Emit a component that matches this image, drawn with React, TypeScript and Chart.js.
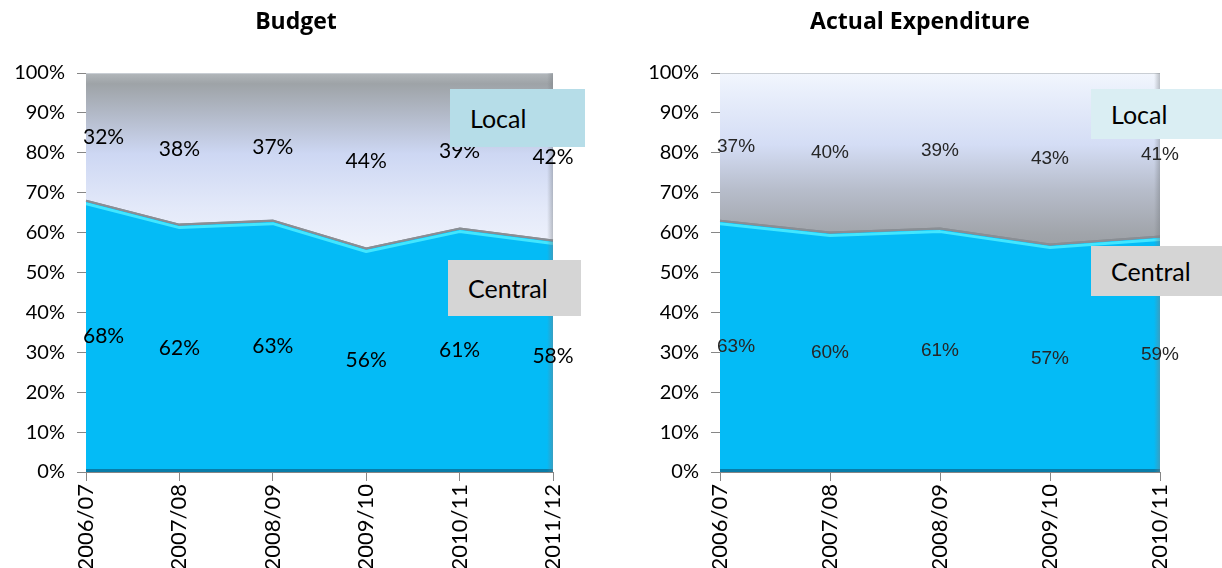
import React, { useEffect, useRef } from "react";
import { Chart, registerables } from "chart.js";

Chart.register(...registerables);

const budgetYears = ["2006/07", "2007/08", "2008/09", "2009/10", "2010/11", "2011/12"];
const budgetCentral = [68, 62, 63, 56, 61, 58];
const budgetLocal = [32, 38, 37, 44, 39, 42];

const actualYears = ["2006/07", "2007/08", "2008/09", "2009/10", "2010/11"];
const actualCentral = [63, 60, 61, 57, 59];
const actualLocal = [37, 40, 39, 43, 41];

const yMin = 0;
const yMax = 100;
const yStep = 10;

type Spec = {
  title: string;
  titleX: number;
  years: string[];
  central: number[];
  local: number[];
  plotLeft: number;
  plotRight: number;
  width: number;
  localStops: [number, string][];
  labelFont: string;
  labelColor: string;
};

const PLOT_TOP = 73;
const PLOT_BOTTOM = 472;
const HEIGHT = 568;

function buildChart(canvas: HTMLCanvasElement, s: Spec) {
  const overlay = {
    id: "overlay",
    afterDatasetsDraw(chart: any) {
      const ctx = chart.ctx as CanvasRenderingContext2D;
      const xs = chart.scales.x;
      const ys = chart.scales.y;
      const area = chart.chartArea;
      ctx.save();
      ctx.beginPath();
      ctx.rect(area.left, area.top, area.right - area.left, area.bottom - area.top);
      ctx.clip();
      ctx.lineJoin = "round";
      ctx.beginPath();
      s.central.forEach((v, i) => {
        const x = xs.getPixelForValue(i);
        const y = ys.getPixelForValue(v) + 3;
        if (i === 0) ctx.moveTo(x, y);
        else ctx.lineTo(x, y);
      });
      ctx.strokeStyle = "rgba(70,232,255,0.95)";
      ctx.lineWidth = 3;
      ctx.stroke();
      ctx.beginPath();
      s.central.forEach((v, i) => {
        const x = xs.getPixelForValue(i);
        const y = ys.getPixelForValue(v);
        if (i === 0) ctx.moveTo(x, y);
        else ctx.lineTo(x, y);
      });
      ctx.strokeStyle = "#8a8e94";
      ctx.lineWidth = 2;
      ctx.stroke();
      ctx.fillStyle = "rgba(10,110,150,0.8)";
      ctx.fillRect(area.left, area.bottom - 3, area.right - area.left, 3);
      // right-edge bevel
      const edge = ctx.createLinearGradient(area.right - 6, 0, area.right, 0);
      edge.addColorStop(0, "rgba(120,125,130,0)");
      edge.addColorStop(1, "rgba(120,125,130,0.45)");
      ctx.fillStyle = edge;
      ctx.fillRect(area.right - 6, area.top, 6, area.bottom - area.top);
      ctx.restore();

      ctx.save();
      ctx.font = s.labelFont;
      ctx.fillStyle = s.labelColor;
      ctx.textBaseline = "middle";
      s.central.forEach((c, i) => {
        const l = s.local[i];
        const x = xs.getPixelForValue(i);
        ctx.textAlign = i === 0 ? "left" : "center";
        const lx = i === 0 ? x - 3 : x;
        ctx.fillText(c + "%", lx, ys.getPixelForValue(c / 2));
        ctx.fillText(l + "%", lx, ys.getPixelForValue(c + l / 2));
      });
      ctx.restore();

      ctx.save();
      ctx.font = "bold 23px 'Open Sans', sans-serif";
      ctx.fillStyle = "#000";
      ctx.textAlign = "center";
      ctx.textBaseline = "middle";
      ctx.fillText(s.title, s.titleX, 22);
      ctx.restore();
    },
  };

  const tickFont = { family: "Lato, 'DejaVu Sans', sans-serif", size: 20 };

  return new Chart(canvas, {
    type: "line",
    data: {
      labels: s.years,
      datasets: [
        {
          label: "Central",
          data: s.central,
          fill: "origin",
          backgroundColor: "#04bbf6",
          borderColor: "#8a8e94",
          borderWidth: 2,
          pointRadius: 0,
          tension: 0,
        },
        {
          label: "Local",
          data: s.local,
          fill: "-1",
          backgroundColor: (ctx: any) => {
            const chart = ctx.chart;
            if (!chart.chartArea) return "#d0d8f0";
            const y = chart.scales.y;
            const g = chart.ctx.createLinearGradient(0, y.getPixelForValue(100), 0, y.getPixelForValue(55));
            s.localStops.forEach(([o, c]) => g.addColorStop(o, c));
            return g;
          },
          borderColor: "#c9ced4",
          borderWidth: 2,
          pointRadius: 0,
          tension: 0,
        },
      ],
    },
    options: {
      animation: false,
      responsive: false,
      maintainAspectRatio: false,
      layout: {
        padding: { top: PLOT_TOP, right: s.width - s.plotRight, bottom: 0, left: 0 },
      },
      plugins: {
        legend: { display: false },
        title: { display: false },
        tooltip: { enabled: false },
      },
      scales: {
        x: {
          offset: false,
          grid: { drawOnChartArea: false, tickLength: 9, color: "#868686" },
          border: { color: "#868686" },
          ticks: {
            autoSkip: false,
            maxRotation: 90,
            minRotation: 90,
            padding: 3,
            color: "#000",
            font: { family: "Lato, 'DejaVu Sans', sans-serif", size: 22 },
          },
          afterFit: (scale: any) => {
            scale.height = HEIGHT - PLOT_BOTTOM;
          },
        },
        y: {
          stacked: true,
          min: yMin,
          max: yMax,
          grid: { drawOnChartArea: false, tickLength: 9, color: "#868686" },
          border: { color: "#868686" },
          ticks: {
            stepSize: yStep,
            padding: 12,
            color: "#000",
            font: tickFont,
            callback: (v: any) => v + "%",
          },
          afterFit: (scale: any) => {
            scale.width = s.plotLeft;
          },
        },
      },
    },
    plugins: [overlay],
  } as any);
}

const leftSpec: Spec = {
  title: "Budget",
  titleX: 296,
  years: budgetYears,
  central: budgetCentral,
  local: budgetLocal,
  plotLeft: 86,
  plotRight: 553,
  width: 610,
  localStops: [
    [0, "#b2b7bb"],
    [0.06, "#9ea3a7"],
    [0.45, "#cdd7f3"],
    [0.75, "#e3e9f9"],
    [1, "#f0f3fc"],
  ],
  labelFont: "21px Lato, sans-serif",
  labelColor: "#000",
};

const rightSpec: Spec = {
  title: "Actual Expenditure",
  titleX: 308,
  years: actualYears,
  central: actualCentral,
  local: actualLocal,
  plotLeft: 108,
  plotRight: 548,
  width: 610,
  localStops: [
    [0, "#f2f6fd"],
    [0.12, "#e8eefb"],
    [0.4, "#d4ddf5"],
    [0.65, "#b7bdcb"],
    [0.9, "#a0a4aa"],
    [1, "#9a9ea3"],
  ],
  labelFont: "19px 'Liberation Sans', sans-serif",
  labelColor: "#262626",
};

const boxText: React.CSSProperties = {
  position: "absolute",
  fontFamily: "Lato, sans-serif",
  fontSize: 25,
  color: "#000",
  boxSizing: "border-box",
  display: "flex",
  alignItems: "center",
};

export default function App() {
  const leftRef = useRef<HTMLCanvasElement>(null);
  const rightRef = useRef<HTMLCanvasElement>(null);

  useEffect(() => {
    const a = buildChart(leftRef.current!, leftSpec);
    const b = buildChart(rightRef.current!, rightSpec);
    return () => {
      a.destroy();
      b.destroy();
    };
  }, []);

  return (
    <div
      style={{
        position: "fixed",
        left: 0,
        top: 0,
        width: 1222,
        height: 568,
        background: "#fff",
        overflow: "hidden",
      }}
    >
      <canvas
        ref={leftRef}
        width={610}
        height={568}
        style={{ position: "absolute", left: 0, top: 0, width: 610, height: 568 }}
      />
      <canvas
        ref={rightRef}
        width={610}
        height={568}
        style={{ position: "absolute", left: 612, top: 0, width: 610, height: 568 }}
      />
      <div style={{ ...boxText, left: 450, top: 89, width: 135, height: 58, background: "#b6dde8", paddingLeft: 20 }}>
        Local
      </div>
      <div style={{ ...boxText, left: 448, top: 260, width: 133, height: 56, background: "#d5d5d5", paddingLeft: 20 }}>
        Central
      </div>
      <div style={{ ...boxText, left: 1091, top: 89, width: 131, height: 50, background: "#daeef3", paddingLeft: 20 }}>
        Local
      </div>
      <div style={{ ...boxText, left: 1091, top: 246, width: 131, height: 50, background: "#d5d5d5", paddingLeft: 20 }}>
        Central
      </div>
    </div>
  );
}
